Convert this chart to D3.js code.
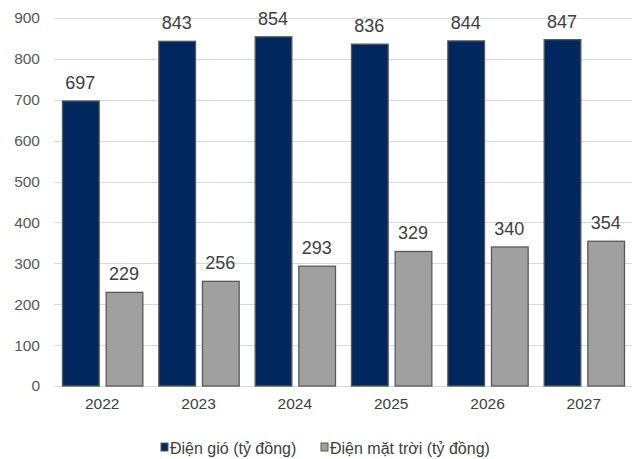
<!DOCTYPE html>
<html>
<head>
<meta charset="utf-8">
<script src="https://cdn.jsdelivr.net/npm/d3@7/dist/d3.min.js"></script>
<style>
  html, body { margin: 0; padding: 0; background: #fff; }
  text { font-family: "Liberation Sans", Arial, sans-serif; }
</style>
</head>
<body>
<svg id="chart" width="638" height="459"></svg>
<script>
const years = ["2022", "2023", "2024", "2025", "2026", "2027"];
const windValues = [697, 843, 854, 836, 844, 847];
const solarValues = [229, 256, 293, 329, 340, 354];
const seriesNames = ["Điện gió (tỷ đồng)", "Điện mặt trời (tỷ đồng)"];
const yTicks = [0, 100, 200, 300, 400, 500, 600, 700, 800, 900];

const colors = ["#00275E", "#A0A0A0"];
const W = 638, H = 459;
const margin = { top: 18, right: 6, bottom: 73, left: 54 };
const innerW = W - margin.left - margin.right;
const innerH = H - margin.top - margin.bottom;

const svg = d3.select("#chart");
const g = svg.append("g").attr("transform", `translate(${margin.left},${margin.top})`);

const x = d3.scaleBand().domain(years).range([0, innerW]).paddingInner(0).paddingOuter(0);
const xs = d3.scaleBand().domain([0, 1]).range([8, x.bandwidth() - 8]).paddingInner(0.16);
const y = d3.scaleLinear().domain([0, 900]).range([innerH, 0]);

// horizontal gridlines
g.append("g").selectAll("line").data(yTicks).join("line")
  .attr("x1", 0).attr("x2", innerW)
  .attr("y1", d => Math.round(y(d)) + 0.5).attr("y2", d => Math.round(y(d)) + 0.5)
  .attr("stroke", "#D9D9D9").attr("stroke-width", 1);

// y axis labels
const yAxis = g.append("g").call(d3.axisLeft(y).tickValues(yTicks).tickSize(0).tickPadding(14));
yAxis.select(".domain").remove();
yAxis.selectAll("text").attr("fill", "#595959").style("font-size", "15.5px")
  .style("font-family", "'Liberation Sans', Arial, sans-serif");

// x axis labels
const xAxis = g.append("g").attr("transform", `translate(0,${innerH})`)
  .call(d3.axisBottom(x).tickSize(0).tickPadding(12));
xAxis.select(".domain").remove();
xAxis.selectAll("text").attr("fill", "#404040").style("font-size", "15.5px")
  .style("font-family", "'Liberation Sans', Arial, sans-serif");

const rows = years.map((yr, i) => ({ year: yr, vals: [windValues[i], solarValues[i]] }));

const groups = g.append("g").selectAll("g").data(rows).join("g")
  .attr("transform", d => `translate(${x(d.year)},0)`);

groups.selectAll("rect").data(d => d.vals.map((v, k) => ({ v, k }))).join("rect")
  .attr("x", d => xs(d.k) + 0.5)
  .attr("width", xs.bandwidth())
  .attr("y", d => y(d.v))
  .attr("height", d => y(0) - y(d.v))
  .attr("fill", d => colors[d.k])
  .attr("stroke", "#595959").attr("stroke-width", 1.3);

groups.selectAll("text.val").data(d => d.vals.map((v, k) => ({ v, k }))).join("text")
  .attr("class", "val")
  .attr("x", d => xs(d.k) + xs.bandwidth() / 2)
  .attr("y", d => y(d.v) - 12)
  .attr("text-anchor", "middle")
  .attr("fill", "#404040")
  .style("font-size", "18px")
  .text(d => d.v);

// legend
const legend = svg.append("g").attr("transform", "translate(0,449)");
const legendX = [161, 321];
seriesNames.forEach((name, k) => {
  legend.append("rect").attr("x", legendX[k]).attr("y", -6).attr("width", 7).attr("height", 8)
    .attr("fill", colors[k]).attr("stroke", "#595959").attr("stroke-width", 1);
  legend.append("text").attr("x", legendX[k] + 9).attr("y", 5)
    .attr("fill", "#404040").style("font-size", "16px").text(name);
});
</script>
</body>
</html>
